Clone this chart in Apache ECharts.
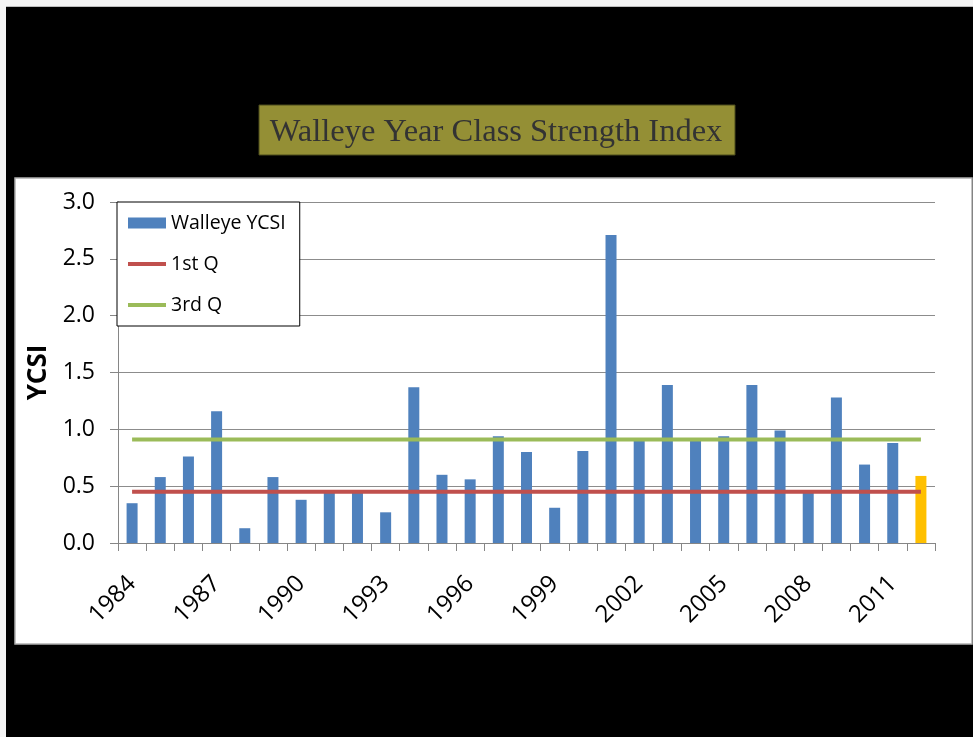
<!DOCTYPE html>
<html>
<head>
<meta charset="utf-8">
<script src="https://cdn.jsdelivr.net/npm/echarts@6/dist/echarts.min.js"></script>
<style>
html,body{margin:0;padding:0;background:#ffffff;}
#chart{width:973px;height:737px;}
</style>
</head>
<body>
<div id="chart"></div>
<script>
const years = ['1984','1985','1986','1987','1988','1989','1990','1991','1992','1993',
  '1994','1995','1996','1997','1998','1999','2000','2001','2002','2003',
  '2004','2005','2006','2007','2008','2009','2010','2011','2012'];
const ycsi = [0.35,0.58,0.76,1.16,0.13,0.58,0.38,0.44,0.46,0.27,
  1.37,0.60,0.56,0.94,0.80,0.31,0.81,2.71,0.90,1.39,
  0.90,0.94,1.39,0.99,0.44,1.28,0.69,0.88,0.59];
const firstQ = [0.45,0.45,0.45,0.45,0.45,0.45,0.45,0.45,0.45,0.45,
  0.45,0.45,0.45,0.45,0.45,0.45,0.45,0.45,0.45,0.45,
  0.45,0.45,0.45,0.45,0.45,0.45,0.45,0.45,0.45];
const thirdQ = [0.91,0.91,0.91,0.91,0.91,0.91,0.91,0.91,0.91,0.91,
  0.91,0.91,0.91,0.91,0.91,0.91,0.91,0.91,0.91,0.91,
  0.91,0.91,0.91,0.91,0.91,0.91,0.91,0.91,0.91];
const yTicks = ['0.0','0.5','1.0','1.5','2.0','2.5','3.0'];

const FONT = 'Open Sans';
const LINE_ICON = 'path://M0,0H40V4H0Z';
const chart = echarts.init(document.getElementById('chart'), null, {renderer: 'canvas'});
const barData = ycsi.map((v, i) => i === ycsi.length - 1 ? {value: v, itemStyle: {color: '#FFC000'}} : v);

chart.setOption({
  backgroundColor: '#000000',
  animation: false,
  graphic: [
    {type: 'rect', z: -100, shape: {x: 0, y: 0, width: 973, height: 6}, style: {fill: '#f4f4f4'}, silent: true},
    {type: 'rect', z: -100, shape: {x: 0, y: 6, width: 973, height: 1}, style: {fill: '#bdbdbd'}, silent: true},
    {type: 'rect', z: -100, shape: {x: 0, y: 0, width: 6, height: 737}, style: {fill: '#f4f4f4'}, silent: true},
    {type: 'rect', z: -100, shape: {x: 15, y: 178, width: 957, height: 466}, style: {fill: '#ffffff', stroke: '#b0b0b0', lineWidth: 1.5}, silent: true},
    {type: 'rect', z: -100, shape: {x: 259, y: 105, width: 476, height: 50}, style: {fill: '#948F35', stroke: '#4a4a1c', lineWidth: 1}, silent: true},
    {type: 'text', z: 10, x: 496, y: 132, silent: true,
      style: {text: 'Walleye Year Class Strength Index', fill: '#333333', font: '32.5px "Liberation Serif"', textAlign: 'center', textVerticalAlign: 'middle'}}
  ],
  legend: {
    left: 117, top: 202, orient: 'vertical',
    backgroundColor: '#ffffff', borderColor: '#000000', borderWidth: 1,
    padding: [9, 14, 9, 11], itemGap: 17, itemWidth: 38, itemHeight: 11,
    textStyle: {fontFamily: FONT, fontSize: 19.5, color: '#000000', lineHeight: 24},
    data: [
      {name: 'Walleye YCSI', icon: 'rect'},
      {name: '1st Q', icon: LINE_ICON},
      {name: '3rd Q', icon: LINE_ICON}
    ]
  },
  grid: {left: 118, right: 38, top: 202, bottom: 194, containLabel: false},
  xAxis: {
    type: 'category', data: years, boundaryGap: true,
    axisLine: {lineStyle: {color: '#868686', width: 1}},
    axisTick: {show: true, interval: 0, length: 8, lineStyle: {color: '#868686'}},
    axisLabel: {interval: 2, rotate: 45, margin: 37, fontFamily: FONT, fontSize: 24, color: '#000000'}
  },
  yAxis: {
    type: 'value', min: 0, max: 3, interval: 0.5,
    name: 'YCSI', nameLocation: 'middle', nameGap: 66,
    nameTextStyle: {fontFamily: FONT, fontSize: 26, fontWeight: 'bold', color: '#000000'},
    axisLine: {show: true, lineStyle: {color: '#868686', width: 1}},
    axisTick: {show: true, length: 8, lineStyle: {color: '#868686'}},
    axisLabel: {margin: 23, fontFamily: FONT, fontSize: 23, color: '#000000',
      formatter: (v) => yTicks[Math.round(v / 0.5)]},
    splitLine: {lineStyle: {color: '#8c8c8c', width: 1.2}}
  },
  series: [
    {name: 'Walleye YCSI', type: 'bar', data: barData, barWidth: 11,
      itemStyle: {color: '#4F81BD'}, z: 2},
    {name: '1st Q', type: 'line', data: firstQ, symbol: 'none', showSymbol: false,
      lineStyle: {color: '#C0504D', width: 4}, itemStyle: {color: '#C0504D'}, z: 3},
    {name: '3rd Q', type: 'line', data: thirdQ, symbol: 'none', showSymbol: false,
      lineStyle: {color: '#9BBB59', width: 4}, itemStyle: {color: '#9BBB59'}, z: 3}
  ]
});
</script>
</body>
</html>
